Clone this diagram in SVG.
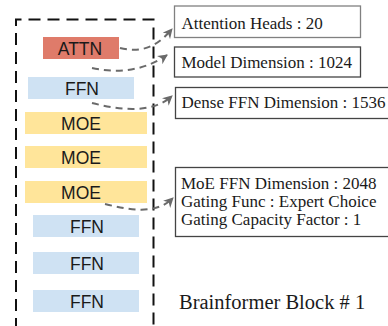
<svg xmlns="http://www.w3.org/2000/svg" width="388" height="326" viewBox="0 0 388 326">
<style>
.lbl{font-family:"Liberation Sans",Arial,sans-serif;font-size:17.5px;fill:#1a1a1a;text-anchor:middle}
.info{font-family:"Liberation Serif","Times New Roman",serif;font-size:17px;fill:#1a1a1a}
.ibox{fill:#ffffff;stroke:#444;stroke-width:1.3}
.attn{fill:#df7b6a}
.ffn{fill:#cfe2f3}
.moe{fill:#ffe59a}
.conn{fill:none;stroke:#6a6a6a;stroke-width:2;stroke-dasharray:7 5}
</style>
<defs>
<marker id="ah" viewBox="0 0 10 10" refX="9" refY="5" markerWidth="5" markerHeight="5" orient="auto" markerUnits="strokeWidth">
<path d="M0,0 L10,5 L0,10 L3,5 Z" fill="#6a6a6a"/>
</marker>
</defs>
<rect width="388" height="326" fill="#ffffff"/>
<g id="block-frame">
<path d="M16,330 V19.5 H153.5 V330" fill="none" stroke="#111" stroke-width="2" stroke-dasharray="12 7"/>
</g>
<g id="attn"><rect class="attn" x="43" y="37" width="76" height="22"/><text class="lbl" x="80" y="55">ATTN</text></g>
<g id="ffn1"><rect class="ffn" x="28" y="77" width="106" height="22"/><text class="lbl" x="82" y="94.5">FFN</text></g>
<g id="moe1"><rect class="moe" x="25" y="112" width="122" height="22"/><text class="lbl" x="81" y="129.5">MOE</text></g>
<g id="moe2"><rect class="moe" x="25" y="146" width="122" height="22"/><text class="lbl" x="81" y="163.5">MOE</text></g>
<g id="moe3"><rect class="moe" x="25" y="181" width="122" height="22"/><text class="lbl" x="81" y="198.5">MOE</text></g>
<g id="ffn2"><rect class="ffn" x="33" y="215" width="106" height="22"/><text class="lbl" x="87" y="232.5">FFN</text></g>
<g id="ffn3"><rect class="ffn" x="33" y="252" width="106" height="22"/><text class="lbl" x="87" y="269.5">FFN</text></g>
<g id="ffn4"><rect class="ffn" x="33" y="290" width="106" height="22"/><text class="lbl" x="87" y="307.5">FFN</text></g>
<g id="info-attn"><rect class="ibox" x="174.5" y="6" width="186" height="31.5" style="stroke:#808080"/><text class="info" x="181.5" y="29">Attention Heads : 20</text></g>
<g id="info-model"><rect class="ibox" x="174.5" y="47" width="186" height="30"/><text class="info" x="181.5" y="68">Model Dimension : 1024</text></g>
<g id="info-dense"><rect class="ibox" x="175.5" y="87.5" width="220" height="31"/><text class="info" x="181.5" y="108">Dense FFN Dimension : 1536</text></g>
<g id="info-moe"><rect class="ibox" x="175.5" y="167.5" width="220" height="69"/><text class="info" x="181" y="188.5">MoE FFN Dimension : 2048</text><text class="info" x="181" y="206.5">Gating Func : Expert Choice</text><text class="info" x="181" y="224.5">Gating Capacity Factor : 1</text></g>
<g id="title"><text class="info" x="179" y="309" style="font-size:20.5px">Brainformer Block # 1</text></g>
<g id="connectors">
<path class="conn" d="M120,48 C140,53 156,48 172,29" marker-end="url(#ah)"/>
<path class="conn" d="M92,68 C120,74 145,70 167,55" marker-end="url(#ah)"/>
<path class="conn" d="M92,103 C120,110 152,114 172,96" marker-end="url(#ah)"/>
<path class="conn" d="M105,204 C130,210 156,215 173,198" marker-end="url(#ah)"/>
</g>
</svg>
